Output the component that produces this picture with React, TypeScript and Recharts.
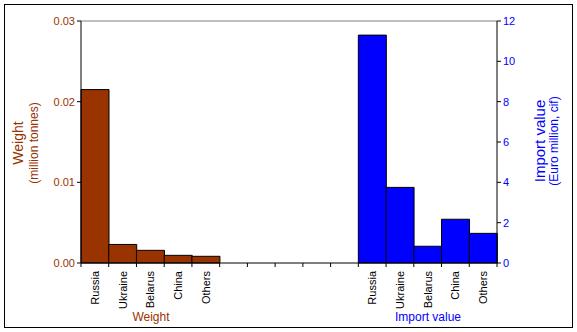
import { BarChart, Bar, XAxis, YAxis, CartesianGrid } from 'recharts';

// Categories (15 slots: 5 weight, 5 empty, 5 import value)
const SLOTS = [
  'Russia', 'Ukraine', 'Belarus', 'China', 'Others',
  '', '', '', '', '',
  'Russia', 'Ukraine', 'Belarus', 'China', 'Others',
];

// Weight (million tonnes)
const WEIGHT = [0.0215, 0.0023, 0.00157, 0.00095, 0.00083];
// Import value (Euro million, cif)
const IMPORT_VALUE = [11.3, 3.75, 0.83, 2.17, 1.47];

const LEFT_TICKS = [0, 0.01, 0.02, 0.03];
const RIGHT_TICKS = [0, 2, 4, 6, 8, 10, 12];

const BROWN = '#993300';
const BLUE = '#0000ff';
const FONT = '"Liberation Sans", Arial, sans-serif';

const data = SLOTS.map((label, i) => ({
  id: i,
  label,
  weight: i < 5 ? WEIGHT[i] : null,
  value: i >= 10 ? IMPORT_VALUE[i - 10] : null,
}));

// category tick: label rotated, tick marks at band boundaries
function SlotTick(props: any) {
  const { x, payload, index } = props;
  const axisY = 263;
  const half = payload.offset || 416 / 30;
  const label = SLOTS[payload.value] ?? '';
  return (
    <g>
      <line x1={x - half} y1={axisY} x2={x - half} y2={axisY + 4} stroke="#000" />
      {index === SLOTS.length - 1 && (
        <line x1={x + half} y1={axisY} x2={x + half} y2={axisY + 4} stroke="#000" />
      )}
      <text
        x={0}
        y={0}
        transform={`translate(${x + 4}, ${axisY + 8}) rotate(-90)`}
        textAnchor="end"
        fontSize={11}
        fontFamily={FONT}
        fill="#000"
      >
        {label}
      </text>
    </g>
  );
}

export default function App() {
  return (
    <div style={{ position: 'absolute', left: 0, top: 0, width: 577, height: 332, background: '#fff', fontFamily: FONT }}>
      <div style={{ position: 'absolute', left: 4, top: 4, width: 567, height: 322, border: '1px solid #000' }} />
      <BarChart
        width={577}
        height={332}
        data={data}
        margin={{ top: 21, right: 30, bottom: 29, left: 31 }}
        barCategoryGap={0}
        barGap={0}
      >
        <CartesianGrid yAxisId="left" xAxisId="w" vertical={false} horizontalValues={[0.03]} stroke="#808080" />
        <XAxis
          xAxisId="w"
          dataKey="id"
          type="category"
          tick={<SlotTick />}
          tickLine={false}
          axisLine={{ stroke: '#000' }}
          interval={0}
          height={40}
        />
        <XAxis xAxisId="v" dataKey="id" type="category" hide height={0} />
        <YAxis
          yAxisId="left"
          orientation="left"
          domain={[0, 0.03]}
          ticks={LEFT_TICKS}
          tickFormatter={(v: number) => v.toFixed(2)}
          width={50}
          axisLine={{ stroke: '#000' }}
          tickLine={{ stroke: '#000' }}
          tickSize={4}
          tick={{ fill: BROWN, fontSize: 11, fontFamily: FONT }}
        />
        <YAxis
          yAxisId="right"
          orientation="right"
          domain={[0, 12]}
          ticks={RIGHT_TICKS}
          width={50}
          axisLine={{ stroke: '#000' }}
          tickLine={{ stroke: '#000' }}
          tickSize={4}
          tick={{ fill: BLUE, fontSize: 11, fontFamily: FONT }}
        />
        <Bar
          dataKey="weight"
          xAxisId="w"
          yAxisId="left"
          fill={BROWN}
          stroke="#000"
          strokeWidth={1}
          isAnimationActive={false}
        />
        <Bar
          dataKey="value"
          xAxisId="v"
          yAxisId="right"
          fill={BLUE}
          stroke="#000"
          strokeWidth={1}
          isAnimationActive={false}
        />
      </BarChart>

      {/* axis titles */}
      <div
        style={{
          position: 'absolute', left: 26, top: 143, width: 200, textAlign: 'center',
          transform: 'translate(-50%, -50%) rotate(-90deg)', color: BROWN, lineHeight: '16px',
        }}
      >
        <div style={{ fontSize: 14 }}>Weight</div>
        <div style={{ fontSize: 12 }}>(million tonnes)</div>
      </div>
      <div
        style={{
          position: 'absolute', left: 547, top: 141, width: 200, textAlign: 'center',
          transform: 'translate(-50%, -50%) rotate(-90deg)', color: BLUE, lineHeight: '15px',
        }}
      >
        <div style={{ fontSize: 15 }}>Import value</div>
        <div style={{ fontSize: 12 }}>(Euro million, cif)</div>
      </div>

      {/* group titles under the category labels */}
      <div style={{ position: 'absolute', left: 101, top: 310, width: 100, textAlign: 'center', fontSize: 12, color: BROWN }}>
        Weight
      </div>
      <div style={{ position: 'absolute', left: 378, top: 310, width: 100, textAlign: 'center', fontSize: 12, color: BLUE }}>
        Import value
      </div>
    </div>
  );
}
